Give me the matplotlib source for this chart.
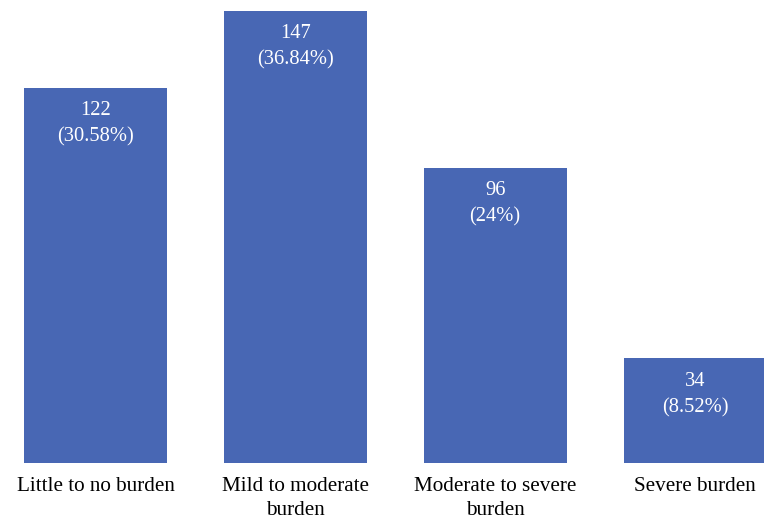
import matplotlib.pyplot as plt
import numpy as np

categories = ["Little to no burden", "Mild to moderate\nburden",
              "Moderate to severe\nburden", "Severe burden"]
counts = [122, 147, 96, 34]
percents = ["30.58%", "36.84%", "24%", "8.52%"]

plt.rcParams['font.family'] = ['Liberation Serif', 'DejaVu Serif']

fig = plt.figure(figsize=(7.64, 5.19), dpi=100)
ax = fig.add_axes([0, 56 / 519, 1, 463 / 519])

x = np.arange(len(categories))
bars = ax.bar(x, counts, width=0.715, color="#4867b4")

for b, n, p in zip(bars, counts, percents):
    ax.annotate(f"{n}\n({p})", xy=(b.get_x() + b.get_width() / 2, b.get_height()),
                xytext=(0, -9.5), textcoords="offset points", ha="center", va="top",
                color="white", fontsize=14.8, linespacing=1.5)

ax.set_xlim(-0.4775, 3.345)
ax.set_ylim(0, 147 * 463 / 452)
ax.set_xticks(x)
ax.set_xticklabels(categories, fontsize=15.2, linespacing=1.38)
ax.tick_params(axis="x", length=0, pad=10)
ax.set_yticks([])
for s in ax.spines.values():
    s.set_visible(False)

fig.savefig("out.png", dpi=100)
